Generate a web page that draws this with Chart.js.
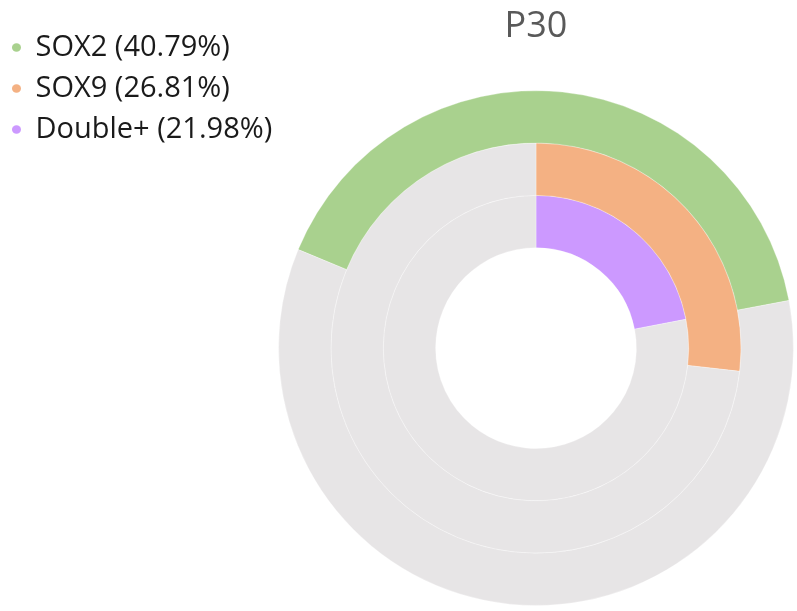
<!DOCTYPE html>
<html>
<head>
<meta charset="utf-8">
<script src="https://cdn.jsdelivr.net/npm/chart.js@4"></script>
<style>
  body { margin: 0; background: #fff; }
  #wrap { width: 797px; height: 611px; }
</style>
</head>
<body>
<div id="wrap"><canvas id="grafico"></canvas></div>
<script>
// Dados do gráfico (anéis de fora para dentro)
const categorias = ['SOX2', 'SOX9', 'Double+'];
const percentuais = [40.79, 26.81, 21.98];
const cores = ['#a9d18e', '#f4b183', '#cc99ff'];
const corResto = '#e7e5e6';
const rotacoes = [-67.5, 0, 0];
const titulo = 'P30';

// Cada anel: valor da série + o restante até 100%
const datasets = categorias.map((nome, i) => ({
    label: nome,
    data: [percentuais[i], +(100 - percentuais[i]).toFixed(2)],
    backgroundColor: [cores[i], corResto],
    borderColor: 'rgba(255,255,255,0.3)',
    borderWidth: 1,
    rotation: rotacoes[i],
    hoverOffset: 0,
    offset: 0
}));

new Chart(document.getElementById('grafico'), {
    type: 'doughnut',
    data: {
        labels: ['Valor', 'Restante'],
        datasets: datasets
    },
    options: {
        responsive: true,
        maintainAspectRatio: false,
        animation: false,
        cutout: '39%',
        layout: {
            padding: { top: 0, right: 3, bottom: 5, left: 0 }
        },
        plugins: {
            tooltip: { enabled: false },
            title: {
                display: true,
                text: titulo,
                fullSize: false,
                color: '#595959',
                font: { family: "'Open Sans', sans-serif", size: 36, weight: 'normal' },
                padding: { top: 5, bottom: 42 }
            },
            legend: {
                position: 'left',
                align: 'start',
                maxWidth: 278,
                title: { display: true, text: '', font: { size: 21, lineHeight: 1 }, padding: 0 },
                labels: {
                    usePointStyle: true,
                    pointStyleWidth: 9,
                    boxHeight: 6,
                    padding: 12,
                    font: { family: "'Open Sans', sans-serif", size: 29 },
                    generateLabels: function () {
                        return categorias.map((nome, i) => ({
                            text: nome + ' (' + percentuais[i].toFixed(2) + '%)',
                            fillStyle: cores[i],
                            strokeStyle: cores[i],
                            fontColor: '#1a1a1a',
                            lineWidth: 0,
                            pointStyle: 'circle',
                            hidden: false,
                            datasetIndex: i
                        }));
                    }
                }
            }
        }
    }
});
</script>
</body>
</html>
